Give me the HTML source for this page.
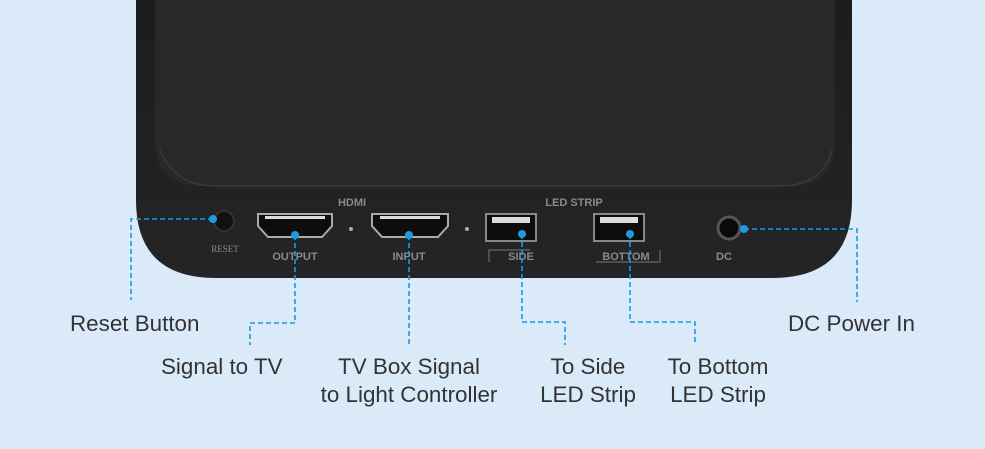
<!DOCTYPE html>
<html><head><style>body{margin:0;background:#dbeaf9;}svg{display:block}</style></head><body>
<svg width="985" height="449" viewBox="0 0 985 449" xmlns="http://www.w3.org/2000/svg" font-family="Liberation Sans, sans-serif">
<defs><linearGradient id="bz" x1="0" y1="0" x2="0" y2="1"><stop offset="0" stop-color="#1c1c1e"/><stop offset="1" stop-color="#252527"/></linearGradient></defs>
<rect width="985" height="449" fill="#dbeaf9"/>
<path d="M136 0 H852 V200 Q852 278 772 278 H216 Q136 278 136 200 Z" fill="url(#bz)"/>
<path d="M155 0 H835 V140 Q835 186 790 186 H200 Q155 186 155 140 Z" fill="#28282a"/>
<path d="M160 150 Q175 186 215 186 H780 Q822 186 832 150" stroke="#3a3a3c" stroke-width="1.5" fill="none"/>
<circle cx="224" cy="221" r="10" fill="#111" stroke="#333" stroke-width="2"/>
<g fill="#0d0d0d" stroke="#aaa" stroke-width="2">
<path d="M258 214 H332 V226 L322 237 H268 L258 226 Z"/>
<path d="M372 214 H448 V226 L438 237 H382 L372 226 Z"/>
</g>
<g fill="#0d0d0d" stroke="#888" stroke-width="2"><rect x="486" y="214" width="50" height="27"/><rect x="594" y="214" width="50" height="27"/></g>
<g fill="#ddd"><rect x="492" y="217" width="38" height="6"/><rect x="600" y="217" width="38" height="6"/><rect x="265" y="216" width="60" height="3"/><rect x="380" y="216" width="60" height="3"/></g>
<circle cx="729" cy="228" r="11" fill="#0a0a0a" stroke="#555" stroke-width="3"/>
<circle cx="351" cy="229" r="2" fill="#aaa"/><circle cx="467" cy="229" r="2" fill="#aaa"/>
<g fill="#8a8a8a" font-size="11" font-weight="bold">
<text x="352" y="206" text-anchor="middle">HDMI</text><text x="574" y="206" text-anchor="middle">LED STRIP</text>
<text x="225" y="252" text-anchor="middle" font-size="9" font-family="Liberation Serif, serif" font-weight="normal">RESET</text>
<text x="295" y="260" text-anchor="middle">OUTPUT</text><text x="409" y="260" text-anchor="middle">INPUT</text>
<text x="521" y="260" text-anchor="middle">SIDE</text><text x="626" y="260" text-anchor="middle">BOTTOM</text>
<text x="724" y="260" text-anchor="middle">DC</text></g>
<path d="M489 262 V250 H530 M596 262 H660 V250" stroke="#777" fill="none"/>
<g stroke="#1b9be0" stroke-width="1.6" stroke-dasharray="5,3" fill="none">
<path d="M213 219 H131 V300"/>
<path d="M295 235 V323 H250 V345"/>
<path d="M409 235 V345"/>
<path d="M522 234 V322 H565 V345"/>
<path d="M630 234 V322 H695 V345"/>
<path d="M744 229 H857 V302"/>
</g>
<g fill="#1b9be0"><circle cx="213" cy="219" r="4"/><circle cx="295" cy="235" r="4"/><circle cx="409" cy="235" r="4"/><circle cx="522" cy="234" r="4"/><circle cx="630" cy="234" r="4"/><circle cx="744" cy="229" r="4"/></g>
<g fill="#333" font-size="22.4">
<text x="70" y="331">Reset Button</text>
<text x="161" y="374">Signal to TV</text>
<text x="409" y="374" text-anchor="middle">TV Box Signal</text>
<text x="409" y="402" text-anchor="middle">to Light Controller</text>
<text x="588" y="374" text-anchor="middle">To Side</text>
<text x="588" y="402" text-anchor="middle">LED Strip</text>
<text x="718" y="374" text-anchor="middle">To Bottom</text>
<text x="718" y="402" text-anchor="middle">LED Strip</text>
<text x="788" y="331">DC Power In</text>
</g>
</svg>
</body></html>
